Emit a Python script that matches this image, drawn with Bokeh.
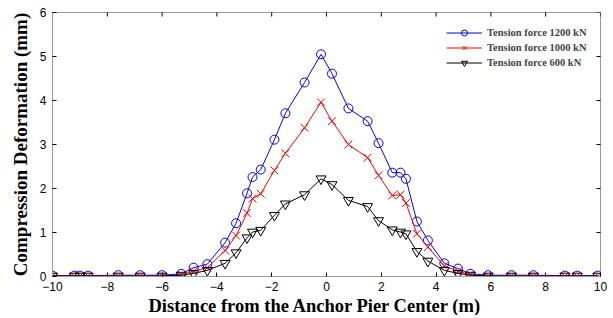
import math
from bokeh.plotting import figure
from bokeh.models import FixedTicker, Legend, LegendItem, Title
from bokeh.embed import file_html
from bokeh.resources import INLINE

# Distance from the anchor pier center (m)
distance = [-10, -9.2, -9.0, -8.7, -7.6, -6.8, -6.0, -5.3, -4.85, -4.35, -3.7, -3.3, -2.9, -2.7, -2.4, -1.9, -1.5, -0.8, -0.2,
            0.2, 0.8, 1.5, 1.9, 2.4, 2.7, 2.9, 3.3, 3.7, 4.3, 4.8, 5.25, 5.9, 6.75, 7.55, 8.7, 9.15, 9.9]

# Compression deformation (mm)
force_1200 = [0.02, 0.02, 0.02, 0.02, 0.03, 0.03, 0.03, 0.06, 0.20, 0.28, 0.77, 1.21, 1.89, 2.26, 2.43, 3.11, 3.71, 4.41, 5.05,
              4.61, 3.82, 3.53, 3.03, 2.36, 2.36, 2.22, 1.25, 0.82, 0.30, 0.18, 0.06, 0.03, 0.03, 0.03, 0.02, 0.02, 0.02]
force_1000 = [0.01, 0.01, 0.01, 0.01, 0.01, 0.01, 0.01, 0.04, 0.12, 0.20, 0.59, 0.93, 1.44, 1.77, 1.88, 2.41, 2.80, 3.38, 3.96,
              3.53, 3.00, 2.70, 2.30, 1.84, 1.86, 1.67, 0.97, 0.67, 0.24, 0.12, 0.04, 0.01, 0.01, 0.01, 0.01, 0.01, 0.01]
force_600 = [0.01, 0.01, 0.01, 0.01, 0.01, 0.01, 0.01, 0.03, 0.07, 0.14, 0.30, 0.54, 0.88, 1.01, 1.05, 1.39, 1.65, 1.86, 2.22,
             2.09, 1.73, 1.59, 1.27, 1.06, 1.01, 0.97, 0.57, 0.35, 0.14, 0.07, 0.03, 0.01, 0.01, 0.01, 0.01, 0.01, 0.01]

series_labels = ["Tension force 1200 kN", "Tension force 1000 kN", "Tension force 600 kN"]
x_label = "Distance from the Anchor Pier Center (m)"
y_label = "Compression Deformation (mm)"
x_ticks = [-10, -8, -6, -4, -2, 0, 2, 4, 6, 8, 10]
y_ticks = [0, 1, 2, 3, 4, 5, 6]
x_min, x_max = x_ticks[0], x_ticks[-1]
y_min, y_max = y_ticks[0], y_ticks[-1]

FRAME_GRAY = "#9a9a9a"

p = figure(frame_width=548, frame_height=264, x_range=(x_min, x_max), y_range=(y_min, y_max),
           output_backend="svg", toolbar_location=None,
           min_border_left=52, min_border_top=12, min_border_right=10, min_border_bottom=0,
           background_fill_color="white", border_fill_color="white")
p.outline_line_color = FRAME_GRAY
p.xgrid.visible = False
p.ygrid.visible = False

p.yaxis.axis_label = y_label
for ax in (p.xaxis[0], p.yaxis[0]):
    ax.axis_label_text_font = "Liberation Serif"
    ax.axis_label_text_font_style = "bold"
    ax.axis_label_text_color = "black"
    ax.major_label_text_font = "Liberation Sans"
    ax.major_label_text_font_size = "12px"
    ax.major_label_text_color = "black"
    ax.axis_line_color = FRAME_GRAY
    ax.major_tick_line_color = "black"
    ax.major_tick_in = 4
    ax.major_tick_out = 0
    ax.minor_tick_line_color = None
p.yaxis.axis_label_text_font_size = "19px"
p.xaxis.ticker = FixedTicker(ticks=x_ticks)
p.yaxis.ticker = FixedTicker(ticks=y_ticks)
p.xaxis.major_label_standoff = 5
p.yaxis.major_label_standoff = 6
p.yaxis.axis_label_standoff = 6

# x-axis title, set slightly left of centre as in the reference
p.add_layout(Title(text=x_label, align="left", offset=96, standoff=0,
                   text_font="Liberation Serif", text_font_style="bold",
                   text_font_size="18.5px", text_color="black"), "below")

# mirrored inward ticks on the top and right edges (clipped to the frame)
p.scatter(x=x_ticks, y=[y_max] * len(x_ticks), marker="dash", angle=math.pi / 2, size=8,
          line_color="black", line_width=1)
p.scatter(x=[x_max] * len(y_ticks), y=y_ticks, marker="dash", size=8,
          line_color="black", line_width=1)

l1 = p.line(distance, force_1200, line_color="#0000ff", line_width=1)
m1 = p.scatter(distance, force_1200, marker="circle", size=9, line_color="#0000ff",
               fill_color=None, line_width=1)
l2 = p.line(distance, force_1000, line_color="#ff0000", line_width=1)
m2 = p.scatter(distance, force_1000, marker="x", size=11, line_color="#ff0000", line_width=1)
l3 = p.line(distance, force_600, line_color="#000000", line_width=1)
m3 = p.scatter(distance, force_600, marker="inverted_triangle", size=10, line_color="#000000",
               fill_color=None, line_width=1)

items = [LegendItem(label=series_labels[0], renderers=[l1, m1]),
         LegendItem(label=series_labels[1], renderers=[l2, m2]),
         LegendItem(label=series_labels[2], renderers=[l3, m3])]
legend = Legend(items=items, location=(394, 206), glyph_width=36, glyph_height=15,
                label_height=15, spacing=0, padding=0, margin=0, label_standoff=5,
                label_text_font="Liberation Serif", label_text_font_style="bold",
                label_text_font_size="10.5px", border_line_color=None,
                background_fill_alpha=0)
p.add_layout(legend, "center")

open("out.html", "w").write(file_html(p, INLINE))
